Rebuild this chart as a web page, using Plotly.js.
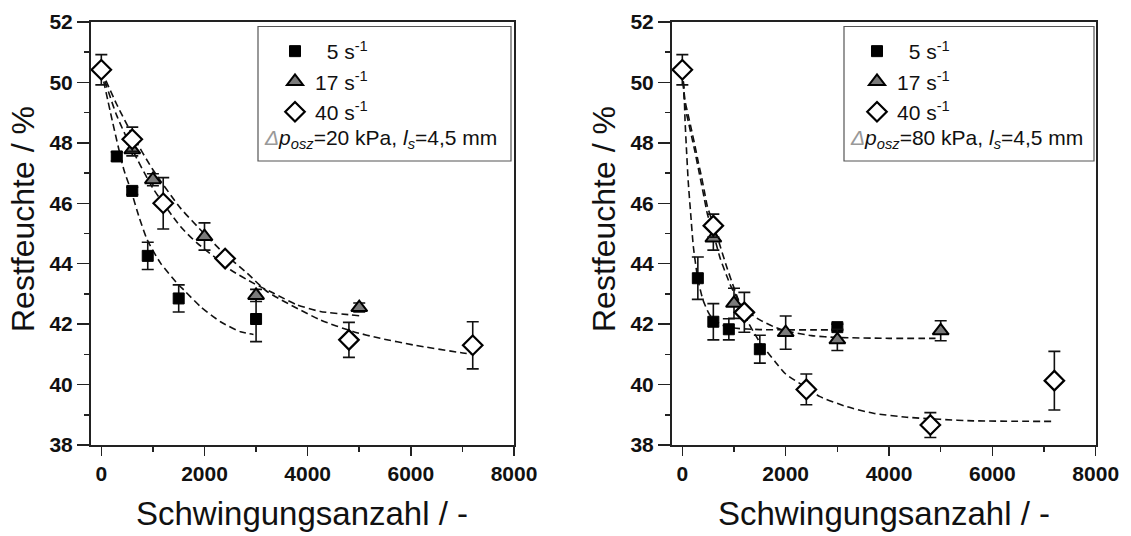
<!DOCTYPE html>
<html><head><meta charset="utf-8">
<script src="https://cdn.plot.ly/plotly-3.0.1.min.js"></script>
<style>html,body{margin:0;padding:0;background:#fff}#c{width:1131px;height:536px}</style>
</head><body><div id="c"></div>
<script>
// ---- Left panel (Δp_osz = 20 kPa) ----
const L5x = [300, 600, 900, 1500, 3000];
const L5y = [47.55, 46.41, 44.26, 42.85, 42.17];
const L5e = [0.15, 0.12, 0.45, 0.45, 0.75];
const L17x = [600, 1000, 2000, 3000, 5000];
const L17y = [47.77, 46.78, 44.9, 42.95, 42.55];
const L17e = [0.2, 0.2, 0.45, 0.2, 0.15];
const L40x = [0, 600, 1200, 2400, 4800, 7200];
const L40y = [50.42, 48.12, 46.0, 44.17, 41.48, 41.3];
const L40e = [0.5, 0.4, 0.85, 0.1, 0.58, 0.78];
// fitted curves
const LF5x = [0, 213, 439, 580, 729, 890, 1148, 1471, 1600, 1923, 2310, 2697, 2950];
const LF5y = [50.4, 48.73, 47.1, 46.4, 45.56, 44.79, 44.02, 43.35, 43.13, 42.58, 42.08, 41.75, 41.66];
const LF17x = [0, 300, 600, 1000, 1535, 1858, 2181, 2503, 2955, 3342, 3794, 4245, 4826, 5000];
const LF17y = [50.4, 48.9, 47.78, 46.5, 45.23, 44.68, 44.24, 43.8, 43.35, 43.02, 42.64, 42.42, 42.31, 42.28];
const LF40x = [0, 300, 600, 1000, 1535, 1987, 2374, 2826, 3213, 4245, 4890, 5406, 6052, 6955, 7200];
const LF40y = [50.4, 49.27, 48.27, 47.11, 45.84, 45.01, 44.35, 43.69, 43.08, 42.14, 41.75, 41.53, 41.31, 41.06, 41.0];

// ---- Right panel (Δp_osz = 80 kPa) ----
const R5x = [300, 600, 900, 1500, 3000];
const R5y = [43.52, 42.08, 41.83, 41.17, 41.9];
const R5e = [0.7, 0.6, 0.35, 0.46, 0.1];
const R17x = [600, 1000, 2000, 3000, 5000];
const R17y = [44.85, 42.69, 41.72, 41.48, 41.78];
const R17e = [0.4, 0.5, 0.55, 0.35, 0.33];
const R40x = [0, 600, 1200, 2400, 4800, 7200];
const R40y = [50.42, 45.26, 42.39, 39.84, 38.66, 40.13];
const R40e = [0.5, 0.38, 0.66, 0.51, 0.41, 0.97];
const RF5x = [0, 32, 52, 84, 116, 161, 213, 300, 400, 500, 600, 800, 1000, 1500, 2000, 2500, 2920];
const RF5y = [50.4, 49.76, 48.76, 47.66, 46.67, 45.67, 44.57, 43.5, 42.8, 42.4, 42.15, 41.95, 41.87, 41.82, 41.81, 41.81, 41.81];
const RF17x = [0, 52, 116, 181, 245, 310, 374, 426, 484, 600, 729, 858, 955, 1200, 1500, 1761, 2000, 2500, 3000, 4000, 4900];
const RF17y = [50.4, 49.2, 48.7, 48.2, 47.7, 47.15, 46.6, 46.15, 45.65, 45.0, 44.2, 43.6, 43.2, 42.5, 42.14, 41.92, 41.78, 41.62, 41.56, 41.53, 41.53];
const RF40x = [0, 52, 116, 181, 245, 310, 374, 426, 484, 600, 729, 858, 1000, 1200, 1500, 1800, 2000, 2400, 2665, 3181, 3697, 4342, 4987, 5632, 7200];
const RF40y = [50.4, 49.4, 48.9, 48.4, 47.9, 47.35, 46.85, 46.4, 45.9, 45.3, 44.6, 43.9, 43.2, 42.3, 41.4, 40.75, 40.35, 39.9, 39.6, 39.27, 39.05, 38.92, 38.85, 38.8, 38.78];

const seriesNames = ['\u20075 s<sup>-1</sup>', '17 s<sup>-1</sup>', '40 s<sup>-1</sup>'];
const xTicks = [0, 2000, 4000, 6000, 8000];
const yTicks = [38, 40, 42, 44, 46, 48, 50, 52];

const FONT = 'Arial';
const W = 1131, H = 536;
const px = v => v / W, py = v => 1 - v / H;

function fit(x, y, xa, ya) {
  return {x, y, xaxis: xa, yaxis: ya, mode: 'lines', showlegend: false, hoverinfo: 'skip',
    line: {color: '#111', width: 1.6, dash: '7px,4px', shape: 'spline', smoothing: 0.6}};
}
const eb = arr => ({type: 'data', array: arr, visible: true, color: '#111', thickness: 1.6, width: 6});
const mk = {
  sq: {symbol: 'square', size: 11, color: '#000', line: {color: '#000', width: 1}},
  tri: {symbol: 'triangle-up', size: 14, color: '#7a7a7a', line: {color: '#000', width: 2}},
  dia: {symbol: 'diamond', size: 15, color: '#fff', line: {color: '#000', width: 2.2}}
};
function pts(x, y, e, xa, ya, m, name, lg, show) {
  return {x, y, xaxis: xa, yaxis: ya, mode: 'markers', name, legend: lg, showlegend: show,
    marker: m, error_y: eb(e), cliponaxis: false};
}

const data = [
  fit(LF5x, LF5y, 'x', 'y'), fit(LF17x, LF17y, 'x', 'y'), fit(LF40x, LF40y, 'x', 'y'),
  fit(RF5x, RF5y, 'x2', 'y2'), fit(RF17x, RF17y, 'x2', 'y2'), fit(RF40x, RF40y, 'x2', 'y2'),
  pts(L5x, L5y, L5e, 'x', 'y', mk.sq, seriesNames[0], 'legend', true),
  pts(L17x, L17y, L17e, 'x', 'y', mk.tri, seriesNames[1], 'legend', true),
  pts(L40x, L40y, L40e, 'x', 'y', mk.dia, seriesNames[2], 'legend', true),
  pts(R5x, R5y, R5e, 'x2', 'y2', mk.sq, seriesNames[0], 'legend2', true),
  pts(R17x, R17y, R17e, 'x2', 'y2', mk.tri, seriesNames[1], 'legend2', true),
  pts(R40x, R40y, R40e, 'x2', 'y2', mk.dia, seriesNames[2], 'legend2', true)
];

const tickFont = {family: 'Arial', size: 21, color: '#111'};
function xax(dom, anchor) {
  return {domain: dom, anchor, range: [-200, 8000], tickvals: xTicks, ticktext: xTicks.map(v => '<b>' + v + '</b>'),
    showline: true, mirror: true, linecolor: '#222', linewidth: 2, ticks: 'outside', ticklen: 9,
    tickwidth: 1.5, tickcolor: '#222', showgrid: false, zeroline: false, tickfont: tickFont,
    minor: {dtick: 1000, tick0: 0, ticks: 'outside', ticklen: 5, tickwidth: 1.5, tickcolor: '#222', showgrid: false}};
}
function yax(dom, anchor) {
  return {domain: dom, anchor, range: [38, 52], tickvals: yTicks, ticktext: yTicks.map(v => '<b>' + v + '</b>'),
    showline: true, mirror: true, linecolor: '#222', linewidth: 2, ticks: 'outside', ticklen: 12,
    tickwidth: 1.5, tickcolor: '#222', showgrid: false, zeroline: false, tickfont: tickFont,
    minor: {dtick: 1, tick0: 38, ticks: 'outside', ticklen: 5, tickwidth: 1.5, tickcolor: '#222', showgrid: false}};
}
const yDom = [py(445), py(22)];
function legend(xpx) {
  return {x: px(xpx), y: py(31), xanchor: 'left', yanchor: 'top', bgcolor: 'rgba(0,0,0,0)',
    borderwidth: 0, font: {family: FONT, size: 21, color: '#111'}, itemwidth: 30, tracegroupgap: 0};
}
const delta = '<span style="color:#999">\u0394</span>';
const layout = {
  width: W, height: H, margin: {l: 0, r: 0, t: 0, b: 0}, paper_bgcolor: '#fff', plot_bgcolor: '#fff',
  font: {family: FONT, color: '#111'},
  xaxis: xax([px(91), px(514)], 'y'), yaxis: yax(yDom, 'x'),
  xaxis2: xax([px(672), px(1095.7)], 'y2'), yaxis2: yax(yDom, 'x2'),
  legend: legend(275), legend2: legend(857),
  shapes: [
    {type: 'rect', xref: 'paper', yref: 'paper', x0: px(258), x1: px(511), y0: py(161), y1: py(26.5),
      line: {color: '#555', width: 1.2}},
    {type: 'rect', xref: 'paper', yref: 'paper', x0: px(844), x1: px(1094), y0: py(161), y1: py(26.5),
      line: {color: '#555', width: 1.2}}
  ],
  annotations: [
    {xref: 'paper', yref: 'paper', x: px(262), y: py(139), xanchor: 'left', yanchor: 'middle', showarrow: false,
      text: '<i>' + delta + 'p</i><sub><i>osz</i></sub>=20 kPa, <i>l</i><sub><i>s</i></sub>=4,5 mm', font: {family: FONT, size: 21, color: '#111'}},
    {xref: 'paper', yref: 'paper', x: px(848), y: py(139), xanchor: 'left', yanchor: 'middle', showarrow: false,
      text: '<i>' + delta + 'p</i><sub><i>osz</i></sub>=80 kPa, <i>l</i><sub><i>s</i></sub>=4,5 mm', font: {family: FONT, size: 21, color: '#111'}},
    {xref: 'paper', yref: 'paper', x: px(302), y: py(513), xanchor: 'center', yanchor: 'middle', showarrow: false,
      text: 'Schwingungsanzahl / -', font: {family: FONT, size: 33, color: '#111'}},
    {xref: 'paper', yref: 'paper', x: px(884), y: py(513), xanchor: 'center', yanchor: 'middle', showarrow: false,
      text: 'Schwingungsanzahl / -', font: {family: FONT, size: 33, color: '#111'}},
    {xref: 'paper', yref: 'paper', x: px(23), y: py(219), xanchor: 'center', yanchor: 'middle', showarrow: false,
      textangle: -90, text: 'Restfeuchte / %', font: {family: FONT, size: 32, color: '#111'}},
    {xref: 'paper', yref: 'paper', x: px(604), y: py(219), xanchor: 'center', yanchor: 'middle', showarrow: false,
      textangle: -90, text: 'Restfeuchte / %', font: {family: FONT, size: 32, color: '#111'}}
  ]
};
Plotly.newPlot('c', data, layout, {staticPlot: true, displayModeBar: false});
</script></body></html>
